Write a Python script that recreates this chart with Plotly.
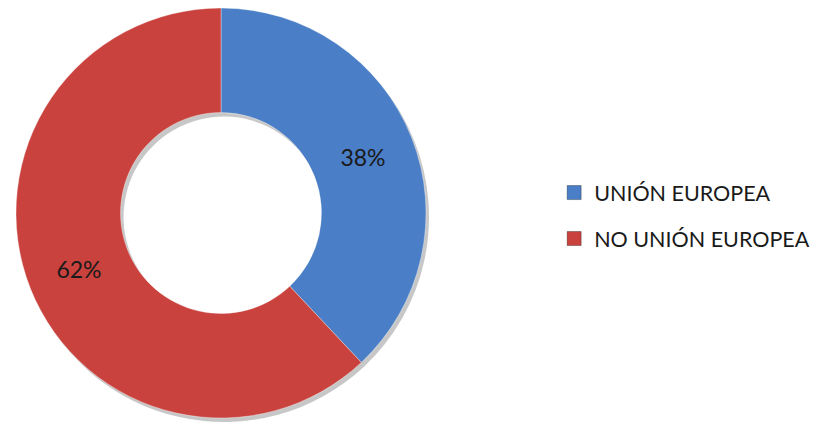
import plotly.graph_objects as go

categories = ["UNIÓN EUROPEA", "NO UNIÓN EUROPEA"]
values = [38, 62]
colors = ["#4A7EC6", "#C9423E"]

W, H = 825, 424
OFF = 8  # page body margin in browser
cx, cy, r = 221 - OFF, 213 - OFF, 205

def clamp(v):
    return min(1.0, max(0.0, v))

def dom(dx, dy):
    return dict(x=[clamp((cx - r + dx) / W), clamp((cx + r + dx) / W)],
                y=[clamp(1 - (cy + r + dy) / H), clamp(1 - (cy - r + dy) / H)])

FONT = "Lato, Open Sans, sans-serif"

fig = go.Figure()
# soft shadow ring
fig.add_trace(go.Pie(
    labels=categories, values=values, hole=0.49, sort=False, direction="clockwise",
    rotation=0, domain=dom(3, 4), marker=dict(colors=["rgba(0,0,0,0.22)"] * 2),
    textinfo="none", hoverinfo="skip", showlegend=False,
))
fig.add_trace(go.Pie(
    labels=categories, values=values, hole=0.49, sort=False, direction="clockwise",
    rotation=0, domain=dom(0, 0),
    marker=dict(colors=colors, line=dict(color="rgba(255,255,255,0.35)", width=1)),
    textinfo="percent", texttemplate="%{percent:.0%}", textposition="inside",
    insidetextorientation="horizontal",
    textfont=dict(family=FONT, size=23, color="#1a1a1a"),
    showlegend=False,
))
for i, (name, col) in enumerate(zip(categories, colors)):
    fig.add_trace(go.Scatter(
        x=[None], y=[None], mode="markers", name=name, legendgroup=f"g{i}",
        marker=dict(symbol="square", size=14, color=col,
                    line=dict(color="rgba(0,0,0,0.3)", width=1)),
    ))

fig.update_layout(
    width=W, height=H, margin=dict(l=0, r=0, t=0, b=0),
    paper_bgcolor="white", plot_bgcolor="white",
    xaxis=dict(visible=False), yaxis=dict(visible=False),
    legend=dict(x=0.662, y=0.613, xanchor="left", yanchor="top",
                font=dict(family=FONT, size=21.5, color="#1a1a1a"),
                tracegroupgap=15, itemwidth=30, bgcolor="rgba(0,0,0,0)",
                traceorder="grouped"),
)
fig.write_html("out.html")
